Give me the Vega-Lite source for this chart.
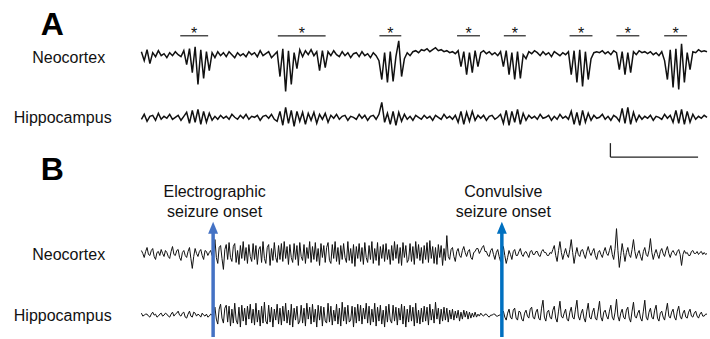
{
  "$schema": "https://vega.github.io/schema/vega-lite/v6.json",
  "width": 710,
  "height": 339,
  "autosize": {"type": "fit", "contains": "padding"},
  "padding": 0,
  "background": "white",
  "config": {"view": {"stroke": null}},
  "datasets": {
    "eegA": [
      {"t":0,"an":3,"ah":-2},{"t":0.5,"an":-6,"ah":3},{"t":1,"an":5,"ah":-4},{"t":1.5,"an":-9,"ah":1},{"t":2,"an":2,"ah":2},{"t":2.5,"an":-2,"ah":-3},{"t":3,"an":4,"ah":4},{"t":3.5,"an":-1,"ah":-2},{"t":4,"an":1,"ah":1},{"t":4.5,"an":-3,"ah":-1},
      {"t":5,"an":2,"ah":3},{"t":5.5,"an":-1,"ah":-2},{"t":6,"an":3,"ah":0},{"t":6.5,"an":0,"ah":2},{"t":7,"an":-2,"ah":-3},{"t":7.5,"an":4,"ah":1},{"t":8,"an":-10,"ah":5},{"t":8.5,"an":6,"ah":-6},{"t":9,"an":-18,"ah":7},{"t":9.5,"an":8,"ah":-5},
      {"t":10,"an":-30,"ah":8},{"t":10.5,"an":5,"ah":-7},{"t":11,"an":-24,"ah":6},{"t":11.5,"an":3,"ah":-5},{"t":12,"an":-16,"ah":4},{"t":12.5,"an":2,"ah":-3},{"t":13,"an":-3,"ah":1},{"t":13.5,"an":3,"ah":-2},{"t":14,"an":-1,"ah":2},{"t":14.5,"an":2,"ah":-1},
      {"t":15,"an":-2,"ah":1},{"t":15.5,"an":3,"ah":-2},{"t":16,"an":0,"ah":3},{"t":16.5,"an":-3,"ah":0},{"t":17,"an":2,"ah":-2},{"t":17.5,"an":-1,"ah":2},{"t":18,"an":1,"ah":-1},{"t":18.5,"an":-2,"ah":3},{"t":19,"an":3,"ah":-2},{"t":19.5,"an":0,"ah":1},
      {"t":20,"an":2,"ah":0},{"t":20.5,"an":-2,"ah":2},{"t":21,"an":4,"ah":-3},{"t":21.5,"an":-1,"ah":1},{"t":22,"an":1,"ah":2},{"t":22.5,"an":3,"ah":-1},{"t":23,"an":-3,"ah":3},{"t":23.5,"an":0,"ah":-2},{"t":24,"an":3,"ah":-4},{"t":24.5,"an":-22,"ah":6},
      {"t":25,"an":6,"ah":-8},{"t":25.5,"an":-37,"ah":10},{"t":26,"an":4,"ah":-6},{"t":26.5,"an":-30,"ah":7},{"t":27,"an":2,"ah":-9},{"t":27.5,"an":-14,"ah":6},{"t":28,"an":5,"ah":-4},{"t":28.5,"an":-2,"ah":5},{"t":29,"an":4,"ah":-7},{"t":29.5,"an":0,"ah":4},
      {"t":30,"an":5,"ah":-3},{"t":30.5,"an":-1,"ah":5},{"t":31,"an":3,"ah":-6},{"t":31.5,"an":-16,"ah":3},{"t":32,"an":4,"ah":-2},{"t":32.5,"an":-13,"ah":4},{"t":33,"an":3,"ah":-5},{"t":33.5,"an":-1,"ah":2},{"t":34,"an":4,"ah":-1},{"t":34.5,"an":0,"ah":3},
      {"t":35,"an":-2,"ah":-2},{"t":35.5,"an":3,"ah":1},{"t":36,"an":-1,"ah":2},{"t":36.5,"an":2,"ah":-3},{"t":37,"an":-3,"ah":1},{"t":37.5,"an":1,"ah":0},{"t":38,"an":2,"ah":-2},{"t":38.5,"an":-2,"ah":3},{"t":39,"an":3,"ah":-1},{"t":39.5,"an":-1,"ah":2},
      {"t":40,"an":1,"ah":-3},{"t":40.5,"an":-3,"ah":1},{"t":41,"an":2,"ah":2},{"t":41.5,"an":-1,"ah":-2},{"t":42,"an":-6,"ah":3},{"t":42.5,"an":-25,"ah":15},{"t":43,"an":2,"ah":-5},{"t":43.5,"an":-28,"ah":4},{"t":44,"an":3,"ah":-7},{"t":44.5,"an":-27,"ah":6},
      {"t":45,"an":-2,"ah":-8},{"t":45.5,"an":14,"ah":5},{"t":46,"an":-22,"ah":-4},{"t":46.5,"an":-4,"ah":3},{"t":47,"an":2,"ah":-2},{"t":47.5,"an":-1,"ah":1},{"t":48,"an":3,"ah":-3},{"t":48.5,"an":4,"ah":2},{"t":49,"an":2,"ah":0},{"t":49.5,"an":5,"ah":-2},
      {"t":50,"an":4,"ah":2},{"t":50.5,"an":6,"ah":-1},{"t":51,"an":3,"ah":1},{"t":51.5,"an":5,"ah":-3},{"t":52,"an":7,"ah":2},{"t":52.5,"an":4,"ah":0},{"t":53,"an":5,"ah":-2},{"t":53.5,"an":3,"ah":3},{"t":54,"an":4,"ah":-1},{"t":54.5,"an":2,"ah":1},
      {"t":55,"an":3,"ah":-2},{"t":55.5,"an":1,"ah":2},{"t":56,"an":4,"ah":-5},{"t":56.5,"an":-12,"ah":6},{"t":57,"an":3,"ah":-7},{"t":57.5,"an":-20,"ah":5},{"t":58,"an":2,"ah":-4},{"t":58.5,"an":-18,"ah":6},{"t":59,"an":4,"ah":-3},{"t":59.5,"an":-12,"ah":2},
      {"t":60,"an":2,"ah":-1},{"t":60.5,"an":4,"ah":2},{"t":61,"an":1,"ah":-3},{"t":61.5,"an":3,"ah":1},{"t":62,"an":0,"ah":2},{"t":62.5,"an":2,"ah":-2},{"t":63,"an":-1,"ah":0},{"t":63.5,"an":3,"ah":3},{"t":64,"an":-12,"ah":-6},{"t":64.5,"an":4,"ah":7},
      {"t":65,"an":-20,"ah":-8},{"t":65.5,"an":2,"ah":6},{"t":66,"an":-25,"ah":-5},{"t":66.5,"an":3,"ah":8},{"t":67,"an":-24,"ah":-7},{"t":67.5,"an":0,"ah":4},{"t":68,"an":-4,"ah":-3},{"t":68.5,"an":3,"ah":2},{"t":69,"an":1,"ah":-1},{"t":69.5,"an":4,"ah":1},
      {"t":70,"an":2,"ah":-2},{"t":70.5,"an":-1,"ah":3},{"t":71,"an":3,"ah":-1},{"t":71.5,"an":0,"ah":0},{"t":72,"an":2,"ah":2},{"t":72.5,"an":-2,"ah":-3},{"t":73,"an":3,"ah":1},{"t":73.5,"an":1,"ah":-2},{"t":74,"an":-1,"ah":3},{"t":74.5,"an":2,"ah":-1},
      {"t":75,"an":0,"ah":1},{"t":75.5,"an":3,"ah":-2},{"t":76,"an":-20,"ah":6},{"t":76.5,"an":4,"ah":-7},{"t":77,"an":-28,"ah":5},{"t":77.5,"an":5,"ah":-8},{"t":78,"an":-32,"ah":7},{"t":78.5,"an":3,"ah":-5},{"t":79,"an":-25,"ah":4},{"t":79.5,"an":-4,"ah":-3},
      {"t":80,"an":2,"ah":2},{"t":80.5,"an":3,"ah":-1},{"t":81,"an":2,"ah":0},{"t":81.5,"an":4,"ah":3},{"t":82,"an":1,"ah":-2},{"t":82.5,"an":3,"ah":1},{"t":83,"an":0,"ah":-3},{"t":83.5,"an":4,"ah":2},{"t":84,"an":2,"ah":0},{"t":84.5,"an":-15,"ah":-4},
      {"t":85,"an":3,"ah":9},{"t":85.5,"an":-20,"ah":-6},{"t":86,"an":2,"ah":10},{"t":86.5,"an":-18,"ah":-7},{"t":87,"an":3,"ah":5},{"t":87.5,"an":0,"ah":-4},{"t":88,"an":4,"ah":2},{"t":88.5,"an":2,"ah":-2},{"t":89,"an":3,"ah":1},{"t":89.5,"an":1,"ah":-1},
      {"t":90,"an":3,"ah":2},{"t":90.5,"an":0,"ah":-3},{"t":91,"an":2,"ah":1},{"t":91.5,"an":-1,"ah":0},{"t":92,"an":3,"ah":-2},{"t":92.5,"an":-6,"ah":3},{"t":93,"an":-25,"ah":-1},{"t":93.5,"an":5,"ah":2},{"t":94,"an":-33,"ah":-5},{"t":94.5,"an":6,"ah":7},
      {"t":95,"an":-35,"ah":-6},{"t":95.5,"an":11,"ah":8},{"t":96,"an":-28,"ah":-7},{"t":96.5,"an":2,"ah":6},{"t":97,"an":-15,"ah":-5},{"t":97.5,"an":3,"ah":3},{"t":98,"an":2,"ah":-2},{"t":98.5,"an":5,"ah":1},{"t":99,"an":3,"ah":-1},{"t":99.5,"an":4,"ah":2},
      {"t":100,"an":3,"ah":0}
    ],
    "eegB": [
      {"t":0,"bn":3,"bh":2},{"t":0.25,"bn":0,"bh":-1},{"t":0.5,"bn":-4,"bh":0},{"t":0.75,"bn":2,"bh":1},{"t":1,"bn":6,"bh":1},{"t":1.25,"bn":-1,"bh":-1},{"t":1.5,"bn":-2,"bh":-2},{"t":1.75,"bn":3,"bh":1},{"t":2,"bn":5,"bh":3},{"t":2.25,"bn":-3,"bh":0},{"t":2.5,"bn":-6,"bh":1},{"t":2.75,"bn":1,"bh":-2},{"t":3,"bn":2,"bh":-1},{"t":3.25,"bn":-2,"bh":1},{"t":3.5,"bn":4,"bh":2},{"t":3.75,"bn":0,"bh":-1},{"t":4,"bn":-3,"bh":0},{"t":4.25,"bn":3,"bh":2},{"t":4.5,"bn":1,"bh":1},{"t":4.75,"bn":-3,"bh":-1},
      {"t":5,"bn":-5,"bh":-2},{"t":5.25,"bn":2,"bh":1},{"t":5.5,"bn":7,"bh":3},{"t":5.75,"bn":-1,"bh":-1},{"t":6,"bn":-2,"bh":1},{"t":6.25,"bn":3,"bh":2},{"t":6.5,"bn":4,"bh":4},{"t":6.75,"bn":-4,"bh":0},{"t":7,"bn":-7,"bh":-1},{"t":7.25,"bn":1,"bh":2},{"t":7.5,"bn":3,"bh":3},{"t":7.75,"bn":-2,"bh":-2},{"t":8,"bn":-4,"bh":-3},{"t":8.25,"bn":2,"bh":1},{"t":8.5,"bn":6,"bh":4},{"t":8.75,"bn":-5,"bh":-1},{"t":9,"bn":-15,"bh":-2},{"t":9.25,"bn":-3,"bh":3},{"t":9.5,"bn":5,"bh":2},{"t":9.75,"bn":0,"bh":-1},
      {"t":10,"bn":-3,"bh":1},{"t":10.25,"bn":2,"bh":0},{"t":10.5,"bn":4,"bh":-2},{"t":10.75,"bn":-2,"bh":2},{"t":11,"bn":-6,"bh":0},{"t":11.25,"bn":3,"bh":-1},{"t":11.5,"bn":2,"bh":1},{"t":11.75,"bn":-2,"bh":-2},{"t":12,"bn":1,"bh":-1},{"t":12.25,"bn":3,"bh":1},{"t":12.5,"bn":-2,"bh":0},{"t":12.75,"bn":1,"bh":2},{"t":13,"bn":14,"bh":8},{"t":13.25,"bn":-4,"bh":-4},{"t":13.5,"bn":-10,"bh":-9},{"t":13.75,"bn":6,"bh":6},{"t":14,"bn":8,"bh":11},{"t":14.25,"bn":-5,"bh":-3},{"t":14.5,"bn":-16,"bh":-8},{"t":14.75,"bn":4,"bh":7},
      {"t":15,"bn":9,"bh":10},{"t":15.25,"bn":-6,"bh":-7},{"t":15.5,"bn":11,"bh":9},{"t":15.75,"bn":-4,"bh":-11},{"t":16,"bn":-8,"bh":6},{"t":16.25,"bn":7,"bh":-8},{"t":16.5,"bn":10,"bh":12},{"t":16.75,"bn":-9,"bh":-5},{"t":17,"bn":3,"bh":-9},{"t":17.25,"bn":-11,"bh":8},{"t":17.5,"bn":8,"bh":-12},{"t":17.75,"bn":-5,"bh":10},{"t":18,"bn":12,"bh":-6},{"t":18.25,"bn":-7,"bh":7},{"t":18.5,"bn":6,"bh":-10},{"t":18.75,"bn":-10,"bh":9},{"t":19,"bn":9,"bh":-4},{"t":19.25,"bn":-3,"bh":11},{"t":19.5,"bn":-8,"bh":-8},{"t":19.75,"bn":10,"bh":6},
      {"t":20,"bn":-6,"bh":-10},{"t":20.25,"bn":8,"bh":12},{"t":20.5,"bn":-11,"bh":-7},{"t":20.75,"bn":4,"bh":5},{"t":21,"bn":7,"bh":-11},{"t":21.25,"bn":-9,"bh":9},{"t":21.5,"bn":12,"bh":-8},{"t":21.75,"bn":-5,"bh":13},{"t":22,"bn":-10,"bh":-6},{"t":22.25,"bn":6,"bh":-9},{"t":22.5,"bn":9,"bh":10},{"t":22.75,"bn":-12,"bh":-7},{"t":23,"bn":5,"bh":8},{"t":23.25,"bn":-7,"bh":-12},{"t":23.5,"bn":11,"bh":6},{"t":23.75,"bn":-4,"bh":-5},{"t":24,"bn":-9,"bh":11},{"t":24.25,"bn":8,"bh":-9},{"t":24.5,"bn":-6,"bh":7},{"t":24.75,"bn":10,"bh":-10},
      {"t":25,"bn":-8,"bh":9},{"t":25.25,"bn":12,"bh":-6},{"t":25.5,"bn":-5,"bh":12},{"t":25.75,"bn":7,"bh":-8},{"t":26,"bn":-11,"bh":5},{"t":26.25,"bn":9,"bh":-10},{"t":26.5,"bn":-4,"bh":11},{"t":26.75,"bn":-9,"bh":-12},{"t":27,"bn":10,"bh":7},{"t":27.25,"bn":-6,"bh":-5},{"t":27.5,"bn":8,"bh":9},{"t":27.75,"bn":-12,"bh":-9},{"t":28,"bn":11,"bh":-6},{"t":28.25,"bn":-3,"bh":10},{"t":28.5,"bn":-7,"bh":-8},{"t":28.75,"bn":9,"bh":7},{"t":29,"bn":-10,"bh":-11},{"t":29.25,"bn":6,"bh":12},{"t":29.5,"bn":-5,"bh":-4},{"t":29.75,"bn":12,"bh":8},
      {"t":30,"bn":-9,"bh":-9},{"t":30.25,"bn":7,"bh":11},{"t":30.5,"bn":-6,"bh":-7},{"t":30.75,"bn":11,"bh":6},{"t":31,"bn":-8,"bh":-12},{"t":31.25,"bn":5,"bh":10},{"t":31.5,"bn":-12,"bh":-5},{"t":31.75,"bn":10,"bh":9},{"t":32,"bn":-4,"bh":-11},{"t":32.25,"bn":8,"bh":8},{"t":32.5,"bn":-9,"bh":-6},{"t":32.75,"bn":6,"bh":-8},{"t":33,"bn":11,"bh":12},{"t":33.25,"bn":-7,"bh":-7},{"t":33.5,"bn":-10,"bh":9},{"t":33.75,"bn":9,"bh":-10},{"t":34,"bn":-5,"bh":5},{"t":34.25,"bn":12,"bh":-6},{"t":34.5,"bn":-8,"bh":11},{"t":34.75,"bn":6,"bh":-9},
      {"t":35,"bn":-11,"bh":7},{"t":35.25,"bn":8,"bh":-11},{"t":35.5,"bn":-6,"bh":13},{"t":35.75,"bn":10,"bh":-6},{"t":36,"bn":-4,"bh":8},{"t":36.25,"bn":-9,"bh":-9},{"t":36.5,"bn":12,"bh":10},{"t":36.75,"bn":-7,"bh":-7},{"t":37,"bn":5,"bh":-5},{"t":37.25,"bn":-10,"bh":9},{"t":37.5,"bn":9,"bh":-12},{"t":37.75,"bn":-13,"bh":8},{"t":38,"bn":7,"bh":-8},{"t":38.25,"bn":-5,"bh":11},{"t":38.5,"bn":10,"bh":-6},{"t":38.75,"bn":-8,"bh":10},{"t":39,"bn":6,"bh":-9},{"t":39.25,"bn":-11,"bh":7},{"t":39.5,"bn":11,"bh":-4},{"t":39.75,"bn":-4,"bh":12},
      {"t":40,"bn":-9,"bh":-8},{"t":40.25,"bn":8,"bh":9},{"t":40.5,"bn":-6,"bh":-10},{"t":40.75,"bn":12,"bh":6},{"t":41,"bn":-10,"bh":-7},{"t":41.25,"bn":5,"bh":12},{"t":41.5,"bn":-7,"bh":-11},{"t":41.75,"bn":11,"bh":8},{"t":42,"bn":-12,"bh":-6},{"t":42.25,"bn":7,"bh":10},{"t":42.5,"bn":-5,"bh":-9},{"t":42.75,"bn":9,"bh":5},{"t":43,"bn":-8,"bh":-12},{"t":43.25,"bn":10,"bh":9},{"t":43.5,"bn":-6,"bh":-7},{"t":43.75,"bn":4,"bh":11},{"t":44,"bn":-11,"bh":-5},{"t":44.25,"bn":8,"bh":-8},{"t":44.5,"bn":-7,"bh":10},{"t":44.75,"bn":12,"bh":-6},
      {"t":45,"bn":-5,"bh":8},{"t":45.25,"bn":9,"bh":-10},{"t":45.5,"bn":-10,"bh":7},{"t":45.75,"bn":6,"bh":-5},{"t":46,"bn":-12,"bh":11},{"t":46.25,"bn":11,"bh":-9},{"t":46.5,"bn":-4,"bh":9},{"t":46.75,"bn":8,"bh":-12},{"t":47,"bn":-9,"bh":6},{"t":47.25,"bn":-6,"bh":-7},{"t":47.5,"bn":10,"bh":10},{"t":47.75,"bn":-8,"bh":-6},{"t":48,"bn":7,"bh":8},{"t":48.25,"bn":-11,"bh":-11},{"t":48.5,"bn":12,"bh":12},{"t":48.75,"bn":-5,"bh":-8},{"t":49,"bn":9,"bh":5},{"t":49.25,"bn":-7,"bh":-9},{"t":49.5,"bn":6,"bh":7},{"t":49.75,"bn":-10,"bh":-7},
      {"t":50,"bn":8,"bh":9},{"t":50.25,"bn":-6,"bh":-6},{"t":50.5,"bn":11,"bh":8},{"t":50.75,"bn":-9,"bh":-10},{"t":51,"bn":13,"bh":11},{"t":51.25,"bn":-5,"bh":-5},{"t":51.5,"bn":7,"bh":6},{"t":51.75,"bn":-10,"bh":-8},{"t":52,"bn":6,"bh":13},{"t":52.25,"bn":-11,"bh":-4},{"t":52.5,"bn":9,"bh":7},{"t":52.75,"bn":-4,"bh":-9},{"t":53,"bn":8,"bh":6},{"t":53.25,"bn":-12,"bh":-6},{"t":53.5,"bn":5,"bh":8},{"t":53.75,"bn":-7,"bh":-5},{"t":54,"bn":18,"bh":7},{"t":54.25,"bn":-3,"bh":-7},{"t":54.5,"bn":-6,"bh":5},{"t":54.75,"bn":4,"bh":-4},
      {"t":55,"bn":6,"bh":6},{"t":55.25,"bn":-3,"bh":-5},{"t":55.5,"bn":-8,"bh":4},{"t":55.75,"bn":2,"bh":-3},{"t":56,"bn":5,"bh":5},{"t":56.25,"bn":-2,"bh":-6},{"t":56.5,"bn":-4,"bh":3},{"t":56.75,"bn":3,"bh":-4},{"t":57,"bn":7,"bh":5},{"t":57.25,"bn":1,"bh":-2},{"t":57.5,"bn":-3,"bh":4},{"t":57.75,"bn":2,"bh":-4},{"t":58,"bn":4,"bh":3},{"t":58.25,"bn":-4,"bh":-3},{"t":58.5,"bn":-6,"bh":2},{"t":58.75,"bn":1,"bh":-2},{"t":59,"bn":2,"bh":3},{"t":59.25,"bn":5,"bh":-2},{"t":59.5,"bn":5,"bh":1},{"t":59.75,"bn":0,"bh":-1},
      {"t":60,"bn":3,"bh":2},{"t":60.25,"bn":6,"bh":0},{"t":60.5,"bn":8,"bh":-1},{"t":60.75,"bn":2,"bh":1},{"t":61,"bn":2,"bh":1},{"t":61.25,"bn":-2,"bh":-1},{"t":61.5,"bn":-3,"bh":-2},{"t":61.75,"bn":3,"bh":0},{"t":62,"bn":5,"bh":0},{"t":62.25,"bn":-1,"bh":1},{"t":62.5,"bn":-6,"bh":1},{"t":62.75,"bn":1,"bh":-1},{"t":63,"bn":4,"bh":-1},{"t":63.25,"bn":-3,"bh":0},{"t":63.5,"bn":-8,"bh":0},{"t":63.75,"bn":2,"bh":2},{"t":64,"bn":7,"bh":4},{"t":64.25,"bn":-2,"bh":-2},{"t":64.5,"bn":-10,"bh":-5},{"t":64.75,"bn":-4,"bh":2},
      {"t":65,"bn":3,"bh":6},{"t":65.25,"bn":-1,"bh":-2},{"t":65.5,"bn":-6,"bh":-4},{"t":65.75,"bn":2,"bh":5},{"t":66,"bn":4,"bh":7},{"t":66.25,"bn":-2,"bh":-3},{"t":66.5,"bn":-2,"bh":-5},{"t":66.75,"bn":2,"bh":4},{"t":67,"bn":5,"bh":3},{"t":67.25,"bn":-1,"bh":-4},{"t":67.5,"bn":-3,"bh":-6},{"t":67.75,"bn":1,"bh":2},{"t":68,"bn":2,"bh":5},{"t":68.25,"bn":-1,"bh":-1},{"t":68.5,"bn":-4,"bh":-3},{"t":68.75,"bn":2,"bh":6},{"t":69,"bn":3,"bh":8},{"t":69.25,"bn":-1,"bh":-2},{"t":69.5,"bn":-1,"bh":-4},{"t":69.75,"bn":2,"bh":3},
      {"t":70,"bn":2,"bh":6},{"t":70.25,"bn":-2,"bh":-3},{"t":70.5,"bn":-3,"bh":-5},{"t":70.75,"bn":2,"bh":7},{"t":71,"bn":4,"bh":15},{"t":71.25,"bn":1,"bh":-2},{"t":71.5,"bn":1,"bh":-6},{"t":71.75,"bn":-2,"bh":3},{"t":72,"bn":-2,"bh":5},{"t":72.25,"bn":1,"bh":-2},{"t":72.5,"bn":0,"bh":-4},{"t":72.75,"bn":4,"bh":5},{"t":73,"bn":8,"bh":9},{"t":73.25,"bn":-2,"bh":-3},{"t":73.5,"bn":-8,"bh":-7},{"t":73.75,"bn":3,"bh":4},{"t":74,"bn":12,"bh":14},{"t":74.25,"bn":1,"bh":-1},{"t":74.5,"bn":-6,"bh":-3},{"t":74.75,"bn":0,"bh":2},
      {"t":75,"bn":5,"bh":6},{"t":75.25,"bn":-1,"bh":-4},{"t":75.5,"bn":-4,"bh":-6},{"t":75.75,"bn":4,"bh":3},{"t":76,"bn":14,"bh":8},{"t":76.25,"bn":1,"bh":-2},{"t":76.5,"bn":-10,"bh":-4},{"t":76.75,"bn":-1,"bh":6},{"t":77,"bn":6,"bh":15},{"t":77.25,"bn":-1,"bh":-1},{"t":77.5,"bn":-3,"bh":-5},{"t":77.75,"bn":3,"bh":2},{"t":78,"bn":4,"bh":6},{"t":78.25,"bn":-1,"bh":-3},{"t":78.5,"bn":-5,"bh":-7},{"t":78.75,"bn":2,"bh":4},{"t":79,"bn":7,"bh":12},{"t":79.25,"bn":1,"bh":-2},{"t":79.5,"bn":-2,"bh":-4},{"t":79.75,"bn":2,"bh":3},
      {"t":80,"bn":5,"bh":7},{"t":80.25,"bn":-2,"bh":-3},{"t":80.5,"bn":-6,"bh":-5},{"t":80.75,"bn":1,"bh":4},{"t":81,"bn":3,"bh":14},{"t":81.25,"bn":-1,"bh":-2},{"t":81.5,"bn":-4,"bh":-6},{"t":81.75,"bn":2,"bh":3},{"t":82,"bn":6,"bh":5},{"t":82.25,"bn":0,"bh":-1},{"t":82.5,"bn":-2,"bh":-4},{"t":82.75,"bn":3,"bh":4},{"t":83,"bn":8,"bh":10},{"t":83.25,"bn":-1,"bh":-2},{"t":83.5,"bn":-6,"bh":-5},{"t":83.75,"bn":5,"bh":3},{"t":84,"bn":25,"bh":16},{"t":84.25,"bn":3,"bh":-1},{"t":84.5,"bn":-14,"bh":-6},{"t":84.75,"bn":-2,"bh":2},
      {"t":85,"bn":10,"bh":6},{"t":85.25,"bn":1,"bh":-2},{"t":85.5,"bn":-8,"bh":-4},{"t":85.75,"bn":1,"bh":5},{"t":86,"bn":6,"bh":8},{"t":86.25,"bn":-1,"bh":-3},{"t":86.5,"bn":-4,"bh":-7},{"t":86.75,"bn":4,"bh":4},{"t":87,"bn":14,"bh":13},{"t":87.25,"bn":2,"bh":-1},{"t":87.5,"bn":-5,"bh":-3},{"t":87.75,"bn":0,"bh":2},{"t":88,"bn":3,"bh":5},{"t":88.25,"bn":-3,"bh":-3},{"t":88.5,"bn":-7,"bh":-6},{"t":88.75,"bn":2,"bh":4},{"t":89,"bn":6,"bh":15},{"t":89.25,"bn":-1,"bh":-2},{"t":89.5,"bn":-3,"bh":-5},{"t":89.75,"bn":3,"bh":3},
      {"t":90,"bn":15,"bh":7},{"t":90.25,"bn":1,"bh":-2},{"t":90.5,"bn":-6,"bh":-4},{"t":90.75,"bn":0,"bh":5},{"t":91,"bn":4,"bh":10},{"t":91.25,"bn":-1,"bh":-3},{"t":91.5,"bn":-5,"bh":-6},{"t":91.75,"bn":2,"bh":2},{"t":92,"bn":5,"bh":4},{"t":92.25,"bn":0,"bh":-2},{"t":92.5,"bn":-3,"bh":-5},{"t":92.75,"bn":3,"bh":4},{"t":93,"bn":7,"bh":12},{"t":93.25,"bn":0,"bh":-1},{"t":93.5,"bn":-4,"bh":-3},{"t":93.75,"bn":1,"bh":3},{"t":94,"bn":3,"bh":6},{"t":94.25,"bn":0,"bh":-2},{"t":94.5,"bn":-2,"bh":-5},{"t":94.75,"bn":2,"bh":4},
      {"t":95,"bn":4,"bh":9},{"t":95.25,"bn":-1,"bh":-1},{"t":95.5,"bn":-12,"bh":-4},{"t":95.75,"bn":-1,"bh":2},{"t":96,"bn":3,"bh":5},{"t":96.25,"bn":0,"bh":-2},{"t":96.5,"bn":1,"bh":-3},{"t":96.75,"bn":-2,"bh":3},{"t":97,"bn":-2,"bh":6},{"t":97.25,"bn":2,"bh":-1},{"t":97.5,"bn":3,"bh":-2},{"t":97.75,"bn":0,"bh":2},{"t":98,"bn":0,"bh":4},{"t":98.25,"bn":2,"bh":-1},{"t":98.5,"bn":-1,"bh":-3},{"t":98.75,"bn":1,"bh":1},{"t":99,"bn":2,"bh":3},{"t":99.25,"bn":-1,"bh":-1},{"t":99.5,"bn":1,"bh":-1},{"t":99.75,"bn":-1,"bh":1},
      {"t":100,"bn":0,"bh":1}
    ],
    "stars": [
      {"t0":6.87,"t1":11.80,"tc":9.34},
      {"t0":24.12,"t1":32.57,"tc":28.35},
      {"t0":42.08,"t1":45.95,"tc":44.02},
      {"t0":55.81,"t1":59.86,"tc":57.84},
      {"t0":64.08,"t1":67.96,"tc":66.02},
      {"t0":75.70,"t1":79.75,"tc":77.73},
      {"t0":83.98,"t1":88.03,"tc":86.0},
      {"t0":92.43,"t1":96.48,"tc":94.46}
    ],
    "events": [
      {"t":12.68,"label":"Electrographic\nseizure onset"},
      {"t":63.73,"label":"Convulsive\nseizure onset"}
    ]
  },
  "layer": [
    {
      "layer": [
        {
          "data": {"name": "eegA"},
          "mark": {"type": "line", "stroke": "#111111", "strokeWidth": 1.5},
          "encoding": {
            "x": {"field": "t", "type": "quantitative", "scale": {"domain": [-25, 100], "nice": false, "zero": false}, "axis": null},
            "y": {"field": "an", "type": "quantitative", "scale": {"domain": [-284, 55], "nice": false, "zero": false}, "axis": null}
          }
        },
        {
          "data": {"name": "stars"},
          "mark": {"type": "rule", "stroke": "#222222", "strokeWidth": 1.2},
          "encoding": {
            "x": {"field": "t0", "type": "quantitative"},
            "x2": {"field": "t1"},
            "y": {"datum": 19, "type": "quantitative"}
          }
        },
        {
          "data": {"name": "stars"},
          "mark": {"type": "text", "text": "*", "font": "Liberation Sans", "fontSize": 16, "baseline": "alphabetic", "align": "center", "color": "#111111"},
          "encoding": {
            "x": {"field": "tc", "type": "quantitative"},
            "y": {"datum": 16, "type": "quantitative"}
          }
        },
        {
          "data": {"values": [{"name": "Neocortex"}]},
          "mark": {"type": "text", "font": "Liberation Sans", "fontSize": 16, "baseline": "alphabetic", "align": "center", "color": "#111111"},
          "encoding": {
            "text": {"field": "name"},
            "x": {"datum": -12.85, "type": "quantitative"},
            "y": {"datum": -8, "type": "quantitative"}
          }
        },
        {
          "data": {"values": [{"panel": "A"}]},
          "mark": {"type": "text", "font": "Liberation Sans", "fontSize": 32, "fontWeight": "bold", "baseline": "alphabetic", "align": "center", "color": "#000000"},
          "encoding": {
            "text": {"field": "panel"},
            "x": {"datum": -15.76, "type": "quantitative"},
            "y": {"datum": 20, "type": "quantitative"}
          }
        }
      ]
    },
    {
      "layer": [
        {
          "data": {"name": "eegA"},
          "mark": {"type": "line", "stroke": "#111111", "strokeWidth": 1.5},
          "encoding": {
            "x": {"field": "t", "type": "quantitative", "scale": {"domain": [-25, 100], "nice": false, "zero": false}, "axis": null},
            "y": {"field": "ah", "type": "quantitative", "scale": {"domain": [-221, 118], "nice": false, "zero": false}, "axis": null}
          }
        },
        {
          "data": {"values": [{"name": "Hippocampus"}]},
          "mark": {"type": "text", "font": "Liberation Sans", "fontSize": 16, "baseline": "alphabetic", "align": "center", "color": "#111111"},
          "encoding": {
            "text": {"field": "name"},
            "x": {"datum": -13.91, "type": "quantitative"},
            "y": {"datum": -6, "type": "quantitative"}
          }
        },
        {
          "data": {"values": [{}]},
          "mark": {"type": "rule", "stroke": "#222222", "strokeWidth": 1.3},
          "encoding": {
            "x": {"datum": 82.92, "type": "quantitative"},
            "x2": {"datum": 98.42},
            "y": {"datum": -40, "type": "quantitative"}
          }
        },
        {
          "data": {"values": [{}]},
          "mark": {"type": "rule", "stroke": "#222222", "strokeWidth": 1.3},
          "encoding": {
            "x": {"datum": 82.92, "type": "quantitative"},
            "y": {"datum": -26, "type": "quantitative"},
            "y2": {"datum": -40}
          }
        }
      ]
    },
    {
      "layer": [
        {
          "data": {"name": "eegB"},
          "mark": {"type": "line", "stroke": "#111111", "strokeWidth": 1},
          "encoding": {
            "x": {"field": "t", "type": "quantitative", "scale": {"domain": [-25, 100], "nice": false, "zero": false}, "axis": null},
            "y": {"field": "bh", "type": "quantitative", "scale": {"domain": [-22, 317], "nice": false, "zero": false}, "axis": null}
          }
        },
        {
          "data": {"values": [{"name": "Hippocampus"}]},
          "mark": {"type": "text", "font": "Liberation Sans", "fontSize": 16, "baseline": "alphabetic", "align": "center", "color": "#111111"},
          "encoding": {
            "text": {"field": "name"},
            "x": {"datum": -13.91, "type": "quantitative"},
            "y": {"datum": -6, "type": "quantitative"}
          }
        }
      ]
    },
    {
      "layer": [
        {
          "data": {"name": "eegB"},
          "mark": {"type": "line", "stroke": "#111111", "strokeWidth": 1},
          "encoding": {
            "x": {"field": "t", "type": "quantitative", "scale": {"domain": [-25, 100], "nice": false, "zero": false}, "axis": null},
            "y": {"field": "bn", "type": "quantitative", "scale": {"domain": [-84, 255], "nice": false, "zero": false}, "axis": null}
          }
        },
        {
          "data": {"values": [{"name": "Neocortex"}]},
          "mark": {"type": "text", "font": "Liberation Sans", "fontSize": 16, "baseline": "alphabetic", "align": "center", "color": "#111111"},
          "encoding": {
            "text": {"field": "name"},
            "x": {"datum": -12.85, "type": "quantitative"},
            "y": {"datum": -7, "type": "quantitative"}
          }
        },
        {
          "data": {"values": [{"panel": "B"}]},
          "mark": {"type": "text", "font": "Liberation Sans", "fontSize": 32, "fontWeight": "bold", "baseline": "alphabetic", "align": "center", "color": "#000000"},
          "encoding": {
            "text": {"field": "panel"},
            "x": {"datum": -15.76, "type": "quantitative"},
            "y": {"datum": 74, "type": "quantitative"}
          }
        },
        {
          "data": {"name": "events"},
          "mark": {"type": "text", "font": "Liberation Sans", "fontSize": 16, "baseline": "alphabetic", "align": "center", "lineBreak": "\n", "lineHeight": 20, "dx": 1.5, "color": "#111111"},
          "encoding": {
            "text": {"field": "label"},
            "x": {"field": "t", "type": "quantitative"},
            "y": {"datum": 57, "type": "quantitative"}
          }
        },
        {
          "data": {"name": "events"},
          "mark": {"type": "rule", "strokeWidth": 3.5},
          "encoding": {
            "x": {"field": "t", "type": "quantitative"},
            "y": {"datum": 21, "type": "quantitative"},
            "y2": {"datum": -84},
            "color": {"field": "label", "type": "nominal", "scale": {"domain": ["Electrographic\nseizure onset", "Convulsive\nseizure onset"], "range": ["#4472C4", "#0070C0"]}, "legend": null}
          }
        },
        {
          "data": {"name": "events"},
          "mark": {"type": "point", "filled": true, "opacity": 1, "shape": "M-0.83,1L0,-1L0.83,1Z", "size": 144},
          "encoding": {
            "x": {"field": "t", "type": "quantitative"},
            "y": {"datum": 26, "type": "quantitative"},
            "color": {"field": "label", "type": "nominal", "scale": {"domain": ["Electrographic\nseizure onset", "Convulsive\nseizure onset"], "range": ["#4472C4", "#0070C0"]}, "legend": null}
          }
        }
      ]
    }
  ],
  "resolve": {"scale": {"y": "independent"}}
}
